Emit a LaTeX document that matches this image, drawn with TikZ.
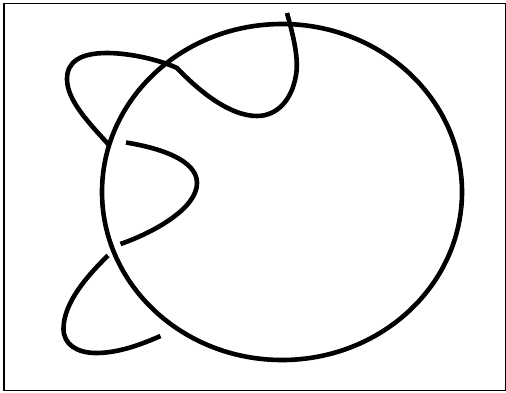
\documentclass[tikz,border=0pt]{standalone}
\begin{document}
\begin{tikzpicture}[x=1pt,y=-1pt,
  frame/.style={draw=black,line width=1.5pt},
  knot/.style={draw=black,line width=4.6pt,line cap=butt}]
\useasboundingbox (0,0) rectangle (506,392);
\fill[white] (0,0) rectangle (506,392);
\draw[frame] (4,3.5) rectangle (505.3,390.7);
\draw[knot] (282,192) ellipse [x radius=180,y radius=168];
\draw[knot] (287,13) .. controls (293,35) and (299,58) .. (296,75)
  .. controls (292,100) and (277,116) .. (257,116)
  .. controls (230,116) and (200,92) .. (177,68)
  .. controls (160,60) and (130,53) .. (107,53)
  .. controls (80,53) and (67,62) .. (67,79)
  .. controls (67,100) and (88,122) .. (109,145);
\draw[knot] (126,142.500) .. controls (160,148) and (197,160) .. (197,183)
  .. controls (197,208) and (155,232) .. (120.500,244);
\draw[knot] (108,255.500) .. controls (88,275) and (64,302) .. (63.500,328)
  .. controls (63,345) and (78,353) .. (96,353)
  .. controls (118,353) and (140,345) .. (160.500,336);
\end{tikzpicture}
\end{document}
